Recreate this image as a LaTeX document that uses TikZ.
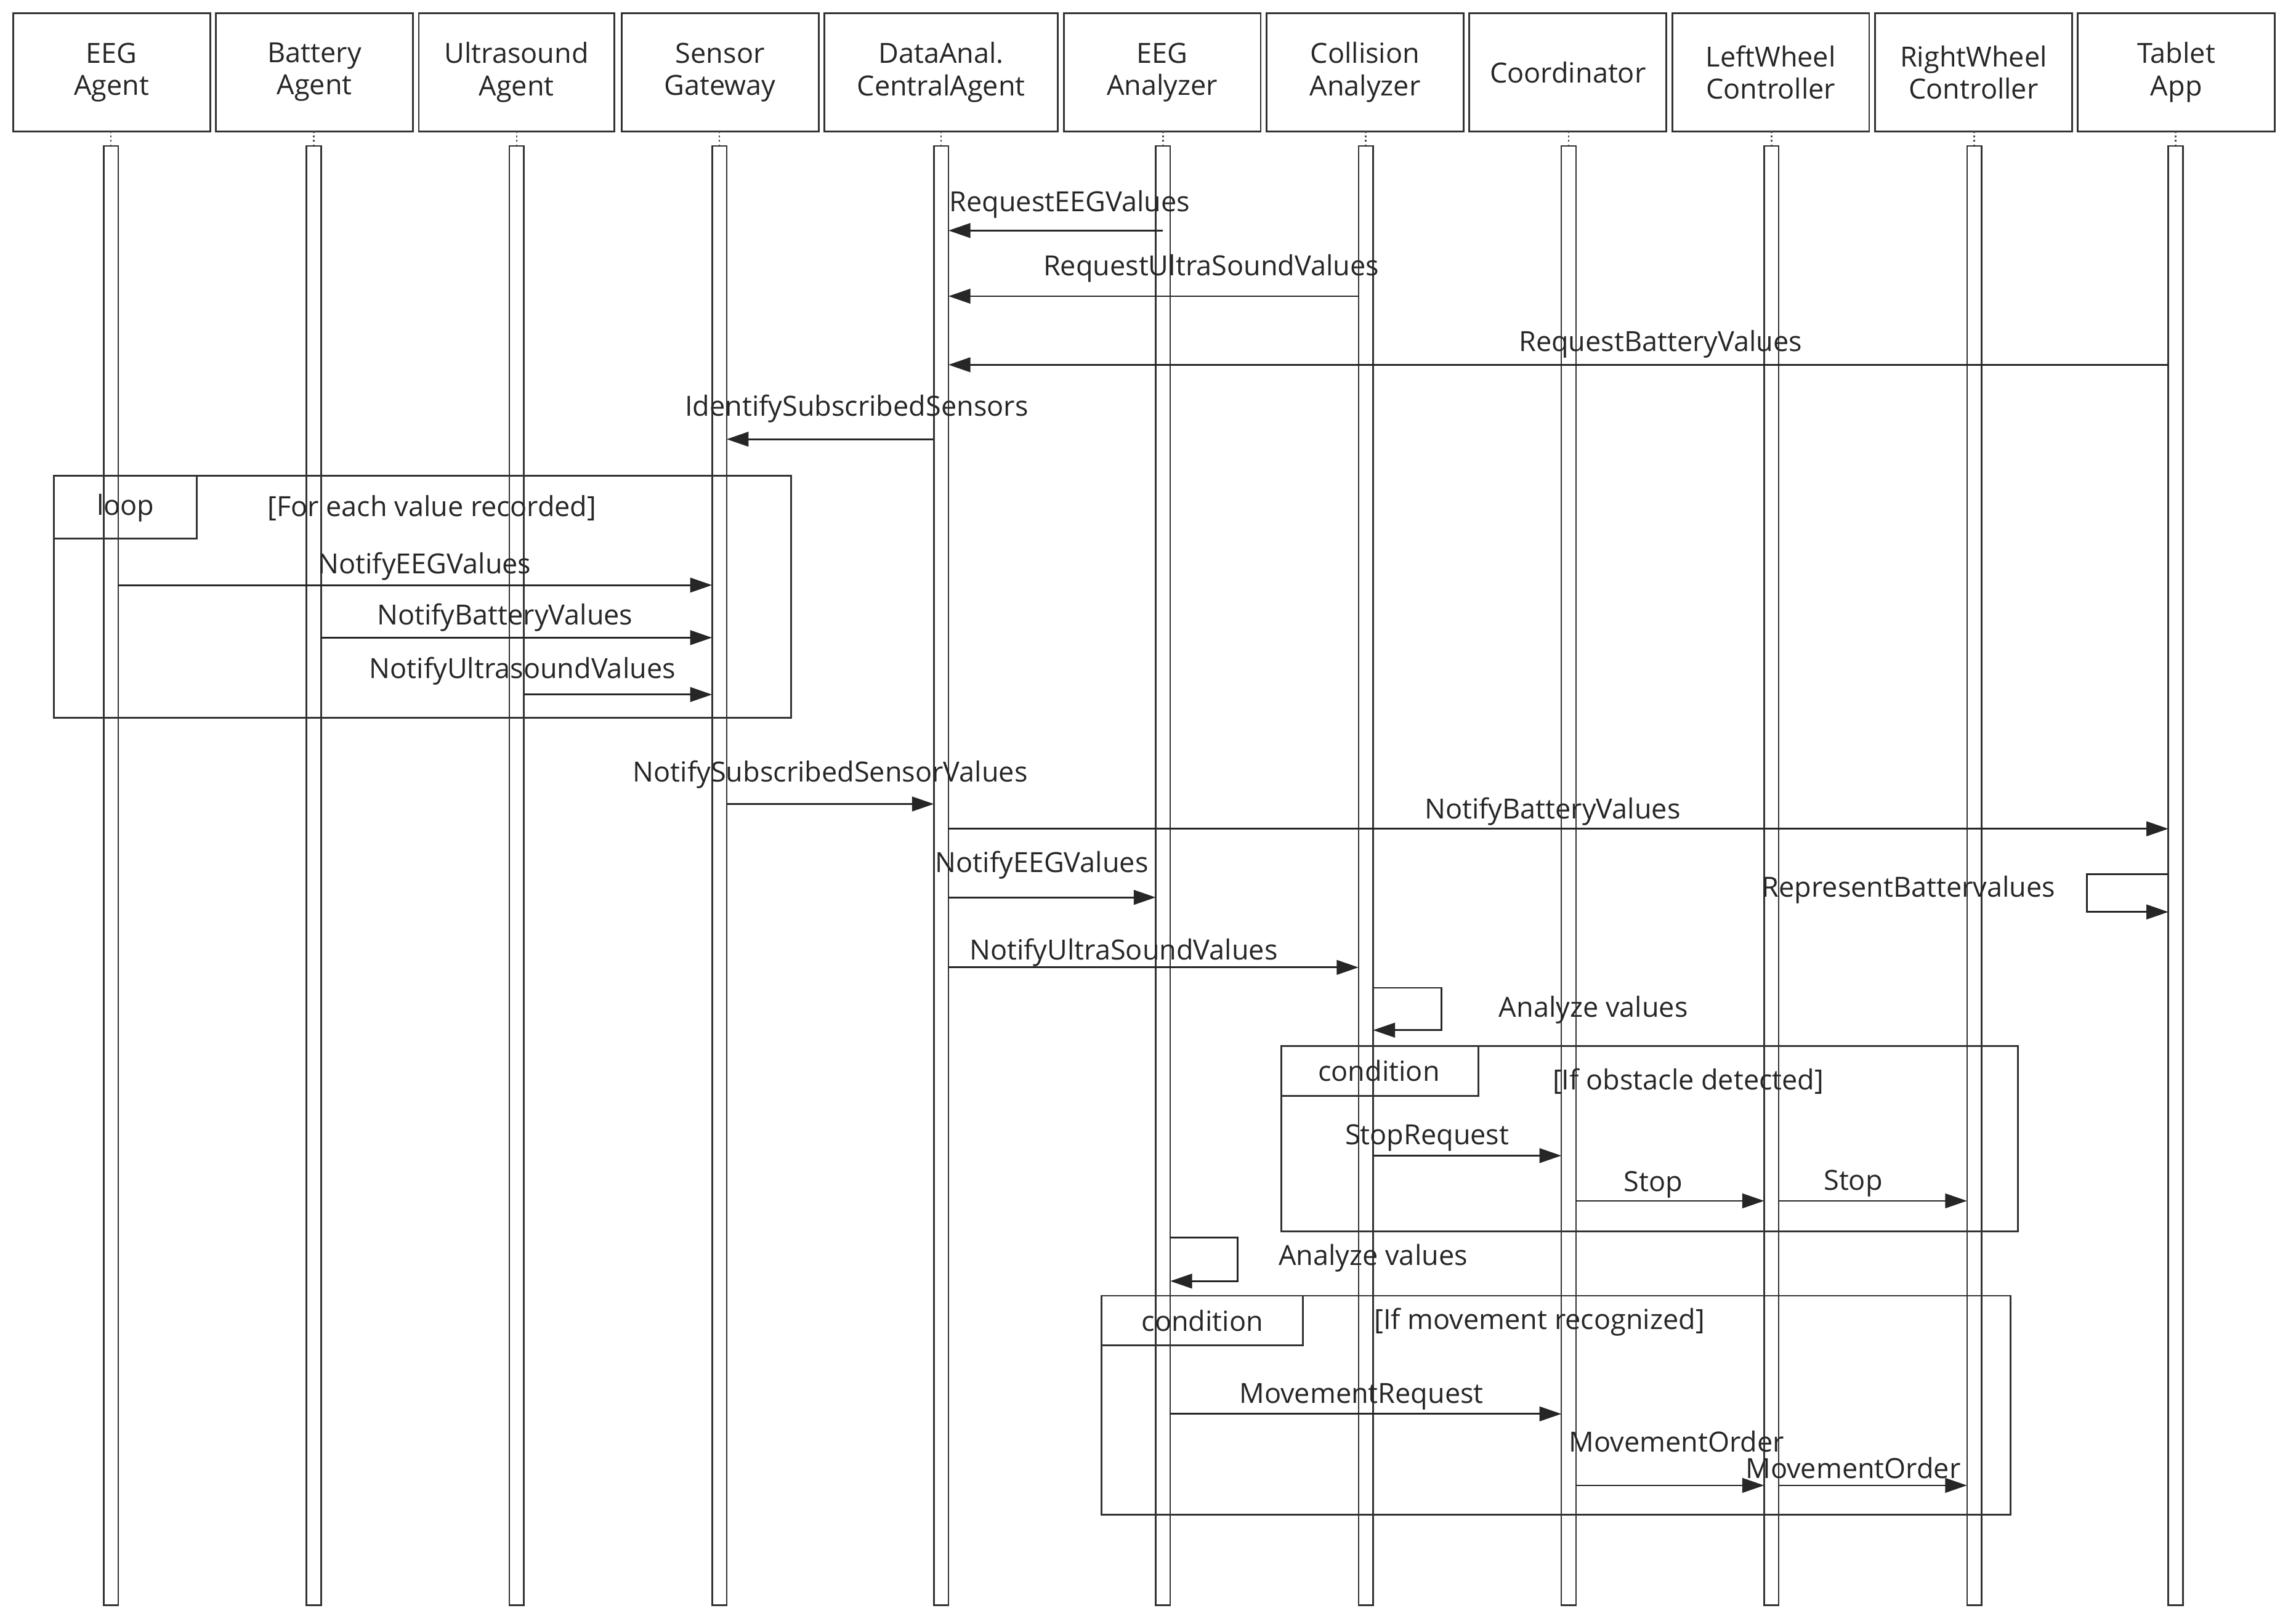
\documentclass[tikz,border=0pt]{standalone}
\usepackage{fontspec}
\setmainfont{Open Sans}
\usetikzlibrary{arrows.meta}
\begin{document}
\begin{tikzpicture}[x=1pt,y=-1pt,
  every node/.style={font=\fontsize{19}{22}\selectfont, text=black!85},
  hdr/.style={draw=black!80, line width=1.2pt, minimum height=81pt, align=center, inner sep=0pt},
  bar/.style={draw=black!80, fill=white, line width=1.1pt},
  msg/.style={draw=black!85, line width=1.2pt, -{Triangle[length=15pt,width=10pt]}},
  frm/.style={draw=black!80, line width=1.2pt},
  lbl/.style={inner sep=0pt}]
\useasboundingbox (0,0) rectangle (1568,1113);
\fill[white] (0,0) rectangle (1568,1113);
% headers
\foreach \n/\a/\b/\t in {h1/9/144/{EEG\\Agent}, h2/148/283/{Battery\\Agent}, h3/287/421/{Ultrasound\\Agent}, h4/426/561/{Sensor\\Gateway}, h5/565/725/{DataAnal.\\CentralAgent}, h6/729/864/{EEG\\Analyzer}, h7/868/1003/{Collision\\Analyzer}, h8/1007/1142/{Coordinator}, h9/1146/1281/{LeftWheel\\Controller}, h10/1285/1420/{RightWheel\\Controller}, h11/1424/1559/{Tablet\\App}}{
  \node[hdr, minimum width={\b-\a}] (\n) at ({(\a+\b)/2},49.5) {\t};
}
% lifelines
\foreach \x in {76,215,354,493,645,797,936,1075,1214,1353,1491}{
  \draw[black!70, line width=1pt, dotted] (\x,90) -- (\x,100);
  \draw[bar] (\x-5,100) rectangle (\x+5,1100);
}
% messages
\draw[msg] (797,158) -- (650,158); \node[lbl] at (733,140) {RequestEEGValues};
\draw[msg] (931,203) -- (650,203); \node[lbl] at (830,184) {RequestUltraSoundValues};
\draw[msg] (1486,250) -- (650,250); \node[lbl] at (1138,236) {RequestBatteryValues};
\draw[msg] (640,301) -- (498,301); \node[lbl] at (587,280) {IdentifySubscribedSensors};
% loop
\draw[frm] (37,326) rectangle (542,492);
\draw[frm] (37,326) rectangle (135,369); \node[lbl] at (86,348) {loop};
\node[lbl] at (296,348) {[For each value recorded]};
\draw[msg] (81,401) -- (488,401); \node[lbl] at (291,388) {NotifyEEGValues};
\draw[msg] (220,437) -- (488,437); \node[lbl] at (346,423) {NotifyBatteryValues};
\draw[msg] (359,476) -- (488,476); \node[lbl] at (358,460) {NotifyUltrasoundValues};
\draw[msg] (498,551) -- (640,551); \node[lbl] at (569,531) {NotifySubscribedSensorValues};
\draw[msg] (650,568) -- (1486,568); \node[lbl] at (1064,556) {NotifyBatteryValues};
\draw[msg] (650,615) -- (792,615); \node[lbl] at (714,593) {NotifyEEGValues};
\draw[msg] (1486,599) -- (1430,599) -- (1430,625) -- (1486,625); \node[lbl] at (1308,610) {RepresentBattervalues};
\draw[msg] (650,663) -- (931,663); \node[lbl] at (770,653) {NotifyUltraSoundValues};
\draw[msg] (941,677) -- (988,677) -- (988,706) -- (941,706); \node[lbl] at (1092,692) {Analyze values};
% condition 1
\draw[frm] (878,717) rectangle (1383,844);
\draw[frm] (878,717) rectangle (1013,751); \node[lbl] at (945,734) {condition};
\node[lbl] at (1157,741) {[If obstacle detected]};
\draw[msg] (941,792) -- (1070,792); \node[lbl] at (978,780) {StopRequest};
\draw[msg] (1080,823) -- (1209,823); \node[lbl] at (1133,812) {Stop};
\draw[msg] (1219,823) -- (1348,823); \node[lbl] at (1270,811) {Stop};
\draw[msg] (802,848) -- (848,848) -- (848,878) -- (802,878); \node[lbl] at (941,862) {Analyze values};
% condition 2
\draw[frm] (755,888) rectangle (1378,1038);
\draw[frm] (755,888) rectangle (893,922); \node[lbl] at (824,905) {condition};
\node[lbl] at (1055,906) {[If movement recognized]};
\draw[msg] (802,969) -- (1070,969); \node[lbl] at (933,957) {MovementRequest};
\draw[msg] (1080,1018) -- (1209,1018); \node[lbl] at (1149,988) {MovementOrder};
\draw[msg] (1219,1018) -- (1348,1018); \node[lbl] at (1270,1006) {MovementOrder};
\end{tikzpicture}
\end{document}
